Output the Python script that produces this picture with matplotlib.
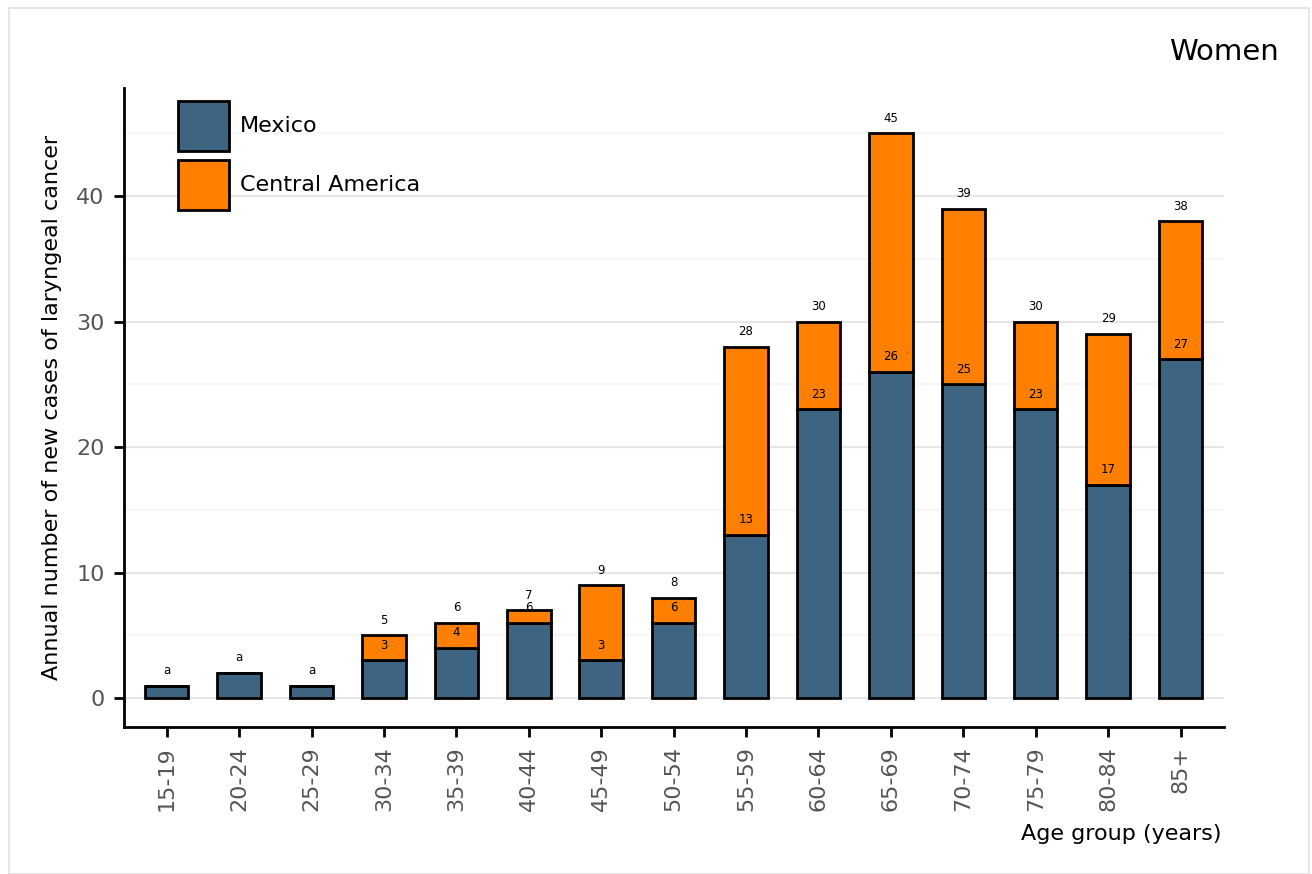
import matplotlib
matplotlib.use("Agg")
import matplotlib.pyplot as plt
from matplotlib.patches import Rectangle
import numpy as np

age_groups = ["15-19", "20-24", "25-29", "30-34", "35-39", "40-44", "45-49", "50-54",
              "55-59", "60-64", "65-69", "70-74", "75-79", "80-84", "85+"]
mexico = [1, 2, 1, 3, 4, 6, 3, 6, 13, 23, 26, 25, 23, 17, 27]
total = [1, 2, 1, 5, 6, 7, 9, 8, 28, 30, 45, 39, 30, 29, 38]
central_america = [t - m for t, m in zip(total, mexico)]
top_labels = ["a", "a", "a", "5", "6", "7", "9", "8", "28", "30", "45", "39", "30", "29", "38"]
series_names = ["Mexico", "Central America"]

c_mex = "#3d6480"
c_ca = "#ff8000"

fig = plt.figure(figsize=(13.12, 8.74), dpi=100)
fig.patches.append(Rectangle((9/1312, 0), 1300/1312, 866/874, transform=fig.transFigure,
                             fill=False, edgecolor="#e0e0e0", linewidth=1.2))
ax = fig.add_axes([124/1312, 147/874, 1100/1312, 639/874])

x = np.arange(len(age_groups))
ax.bar(x, mexico, width=0.6, color=c_mex, edgecolor="black", linewidth=2, zorder=3)
ax.bar(x, central_america, bottom=mexico, width=0.6, color=c_ca, edgecolor="black",
       linewidth=2, zorder=3)

for i in range(len(x)):
    ax.text(x[i], total[i] + 1.2, top_labels[i], ha="center", va="center", fontsize=8.5, zorder=5)
    if central_america[i] > 0:
        ax.text(x[i], mexico[i] + 1.2, str(mexico[i]), ha="center", va="center", fontsize=8.5, zorder=5)

ax.set_xlim(-0.59, 14.6)
ax.set_ylim(-2.3, 48.6)
ax.set_yticks([0, 10, 20, 30, 40])
ax.set_yticks([5, 15, 25, 35, 45], minor=True)
ax.set_xticks(x)
ax.set_xticklabels(age_groups, rotation=90)
ax.tick_params(axis="both", which="major", labelsize=16, labelcolor="#555555",
               color="black", width=2, length=7, pad=7)
ax.tick_params(axis="y", which="minor", length=0)
ax.grid(axis="y", which="major", color="#e6e6e6", linewidth=1.5, zorder=0)
ax.grid(axis="y", which="minor", color="#f6f6f6", linewidth=1.5, zorder=0)
ax.set_axisbelow(True)
for s in ["top", "right"]:
    ax.spines[s].set_visible(False)
for s in ["left", "bottom"]:
    ax.spines[s].set_linewidth(2)

ax.set_ylabel("Annual number of new cases of laryngeal cancer", fontsize=16)
ax.yaxis.set_label_coords(-0.056, 0.5)
ax.set_xlabel("Age group (years)", fontsize=16, loc="right")
ax.xaxis.set_label_coords(0.998, -0.152)
fig.text(1279/1312, 1 - 52/874, "Women", ha="right", va="center", fontsize=21)

# legend drawn in axes coordinates
leg_colors = [c_mex, c_ca]
leg_tops = [0.980, 0.887]
for name, col, top in zip(series_names, leg_colors, leg_tops):
    ax.add_patch(Rectangle((0.049, top - 0.078), 0.046, 0.078, transform=ax.transAxes,
                           facecolor=col, edgecolor="black", linewidth=2, zorder=6,
                           clip_on=False))
    ax.text(0.105, top - 0.039, name, transform=ax.transAxes, ha="left", va="center",
            fontsize=16, zorder=6)

fig.savefig("out.png", dpi=100)
